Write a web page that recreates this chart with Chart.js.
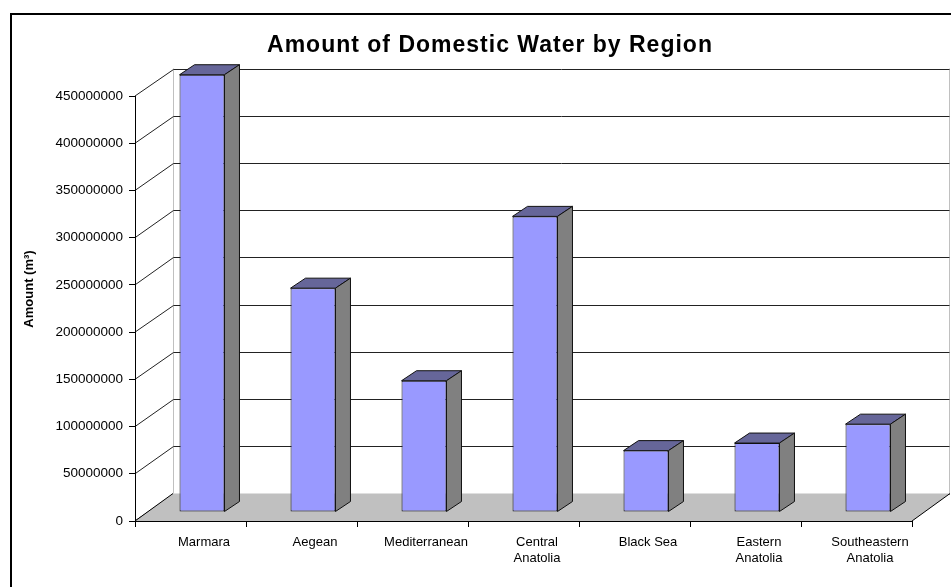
<!DOCTYPE html>
<html>
<head>
<meta charset="utf-8">
<title>Amount of Domestic Water by Region</title>
<script src="https://cdn.jsdelivr.net/npm/chart.js@4.4.1/dist/chart.umd.min.js"></script>
<style>
    html, body { margin: 0; padding: 0; background: #fff; overflow: hidden; }
    #frame { position: absolute; left: 10px; top: 13px; width: 960px; height: 575px; border: 2px solid #000; }
    canvas { display: block; }
</style>
</head>
<body>
<div id="frame"><canvas id="water-chart" width="960" height="575"></canvas></div>
<script>
// Data (m3 per region)
const regions = ['Marmara', 'Aegean', 'Mediterranean', ['Central', 'Anatolia'], 'Black Sea', ['Eastern', 'Anatolia'], ['Southeastern', 'Anatolia']];
const amounts = [463000000, 237000000, 139000000, 313000000, 65000000, 73000000, 93000000];
const yTicks = [0, 50000000, 100000000, 150000000, 200000000, 250000000, 300000000, 350000000, 400000000, 450000000];

const chartTitle = 'Amount of Domestic Water by Region';
const yTitle = 'Amount (m³)';

// 3D look: depth of the walls and where the bars sit in it
const WALL_DX = 38, WALL_DY = -27.5;
const BAR_DX = 11.5, BAR_DY = -9;
const SIDE_DX = 15, SIDE_DY = -10;
const FRONT_COLOR = '#9999ff', TOP_COLOR = '#666699', SIDE_COLOR = '#808080', EDGE_COLOR = '#111';
const FONT = '"Liberation Sans", Arial, sans-serif';

function fillFace(ctx, pts, color) {
    ctx.beginPath();
    ctx.moveTo(pts[0][0], pts[0][1]);
    for (let i = 1; i < pts.length; i++) ctx.lineTo(pts[i][0], pts[i][1]);
    ctx.closePath();
    ctx.fillStyle = color;
    ctx.fill();
    ctx.stroke();
}

// walls, floor, gridlines, bar tops and sides, titles
const box3d = {
    id: 'box3d',
    beforeDraw(chart) {
        const {ctx, chartArea: a, scales: {y}} = chart;
        const bx = Math.round(a.left + WALL_DX) + 0.5;
        const ex = Math.round(a.right + WALL_DX) - 0.5;
        const topY = y.getPixelForValue(yTicks[yTicks.length - 1]) + WALL_DY;
        ctx.save();
        ctx.lineWidth = 1;
        ctx.strokeStyle = '#c0c0c0';
        ctx.beginPath();
        ctx.moveTo(bx, a.bottom + WALL_DY);
        ctx.lineTo(bx, topY);
        ctx.moveTo(ex, a.bottom + WALL_DY);
        ctx.lineTo(ex, topY);
        ctx.stroke();

        ctx.strokeStyle = '#222';
        yTicks.forEach(v => {
            const py = y.getPixelForValue(v);
            const by = Math.round(py + WALL_DY) + 0.5;
            ctx.beginPath();
            ctx.moveTo(a.left, py);
            ctx.lineTo(bx, by);
            ctx.lineTo(ex, by);
            ctx.stroke();
        });

        // floor
        ctx.fillStyle = '#c0c0c0';
        ctx.beginPath();
        ctx.moveTo(a.left, a.bottom);
        ctx.lineTo(a.right, a.bottom);
        ctx.lineTo(a.right + WALL_DX, a.bottom + WALL_DY);
        ctx.lineTo(a.left + WALL_DX, a.bottom + WALL_DY);
        ctx.closePath();
        ctx.fill();
        ctx.strokeStyle = '#000';
        ctx.beginPath();
        ctx.moveTo(a.left, a.bottom);
        ctx.lineTo(a.left + WALL_DX, a.bottom + WALL_DY);
        ctx.moveTo(a.right, a.bottom);
        ctx.lineTo(a.right + WALL_DX, a.bottom + WALL_DY);
        ctx.stroke();
        ctx.restore();
    },
    beforeDatasetsDraw(chart) {
        // front faces are the real Chart.js bars, pushed back into the box
        chart.ctx.save();
        chart.ctx.translate(BAR_DX, BAR_DY);
    },
    afterDatasetsDraw(chart) {
        const ctx = chart.ctx;
        ctx.restore();
        ctx.save();
        ctx.lineWidth = 1;
        ctx.strokeStyle = EDGE_COLOR;
        ctx.lineJoin = 'round';
        chart.getDatasetMeta(0).data.forEach(bar => {
            const {x, y, base, width} = bar.getProps(['x', 'y', 'base', 'width'], true);
            const l = x - width / 2 + BAR_DX, r = x + width / 2 + BAR_DX;
            const t = y + BAR_DY, b = base + BAR_DY;
            fillFace(ctx, [[l, t], [r, t], [r + SIDE_DX, t + SIDE_DY], [l + SIDE_DX, t + SIDE_DY]], TOP_COLOR);
            fillFace(ctx, [[r, t], [r + SIDE_DX, t + SIDE_DY], [r + SIDE_DX, b + SIDE_DY], [r, b]], SIDE_COLOR);
        });
        ctx.restore();
    },
    afterDraw(chart) {
        const ctx = chart.ctx;
        ctx.save();
        ctx.fillStyle = '#000';
        ctx.textAlign = 'center';
        ctx.textBaseline = 'middle';
        // chart title, centred on the whole Excel chart box
        ctx.font = 'bold 23px ' + FONT;
        if ('letterSpacing' in ctx) ctx.letterSpacing = '1px';
        ctx.fillText(chartTitle, 478, 31);
        if ('letterSpacing' in ctx) ctx.letterSpacing = '0px';
        // y axis title, centred on the whole 3D plot
        ctx.translate(17, 274);
        ctx.rotate(-Math.PI / 2);
        ctx.font = 'bold 13px ' + FONT;
        ctx.fillText(yTitle, 0, 0);
        ctx.restore();
    }
};

const ctx = document.getElementById('water-chart').getContext('2d');
const waterChart = new Chart(ctx, {
    type: 'bar',
    data: {
        labels: regions,
        datasets: [{
            label: yTitle,
            data: amounts,
            backgroundColor: FRONT_COLOR,
            borderColor: EDGE_COLOR,
            borderWidth: 1,
            borderSkipped: false,
            barPercentage: 0.405,
            categoryPercentage: 1,
            clip: false
        }]
    },
    options: {
        responsive: false,
        animation: false,
        layout: { padding: { left: 0, right: 60, top: 81, bottom: 0 } },
        plugins: {
            legend: { display: false },
            tooltip: { enabled: false },
            title: { display: false }
        },
        scales: {
            x: {
                afterFit(scale) { scale.height = 69; },
                grid: { drawOnChartArea: false, drawTicks: true, tickLength: 6, color: '#000', offset: true },
                border: { display: true, color: '#000', width: 1 },
                ticks: {
                    color: '#000',
                    font: { family: FONT, size: 13, lineHeight: 1.25 },
                    padding: 7,
                    labelOffset: 13.5,
                    autoSkip: false,
                    maxRotation: 0
                }
            },
            y: {
                min: yTicks[0],
                max: yTicks[yTicks.length - 1],
                afterFit(scale) { scale.width = 123; },
                afterBuildTicks(scale) { scale.ticks = yTicks.map(v => ({ value: v })); },
                grid: { drawOnChartArea: false, drawTicks: true, tickLength: 6, color: '#000' },
                border: { display: true, color: '#000', width: 1 },
                ticks: {
                    color: '#000',
                    font: { family: FONT, size: 13.5 },
                    padding: 6,
                    callback: v => String(v)
                }
            }
        }
    },
    plugins: [box3d]
});
</script>
</body>
</html>
